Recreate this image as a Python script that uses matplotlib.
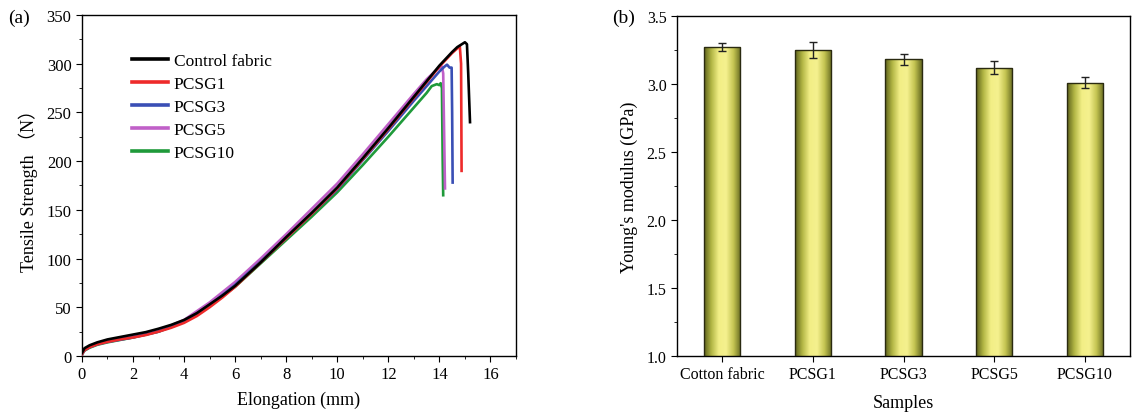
import numpy as np
import matplotlib
matplotlib.use("Agg")
import matplotlib.pyplot as plt
from matplotlib.ticker import MultipleLocator
from matplotlib.colors import LinearSegmentedColormap

plt.rcParams.update({"font.family": ["Liberation Serif", "Noto Sans CJK SC"],
                     "font.size": 11,
                     "axes.linewidth": 1.0,
                     "xtick.direction": "out", "ytick.direction": "out"})

# ── (a) tensile curves: elongation (mm) vs force (N) ──────────────────
ctrl_x = [0, 0.1, 0.3, 0.6, 1, 1.5, 2, 2.5, 3, 3.5, 4, 4.5, 5, 5.5, 6, 7, 8, 9, 10,
          11, 12, 13, 13.5, 14, 14.5, 14.7, 15.0, 15.08, 15.13, 15.2]
ctrl_y = [3, 8, 11, 14, 17, 19.5, 22, 24.5, 28, 32, 37, 44, 53, 62, 72, 96, 122, 147, 173,
          203, 234, 266, 282, 298, 312, 317, 322, 320, 290, 240]

g1_x = [0, 0.1, 0.3, 0.6, 1, 1.5, 2, 2.5, 3, 3.5, 4, 4.5, 5, 5.5, 6, 7, 8, 9, 10,
        11, 12, 13, 13.5, 14, 14.5, 14.8, 14.85, 14.87]
g1_y = [2, 6, 9, 12, 14.5, 17, 19, 21.5, 25, 29, 34, 41, 50, 60, 71, 96, 121, 146, 172,
        202, 233, 265, 281, 297, 311, 318, 300, 190]

g3_x = [0, 0.1, 0.3, 0.6, 1, 2, 3, 4, 5, 6, 7, 8, 9, 10, 11, 12, 13, 13.5, 14,
        14.2, 14.3, 14.4, 14.48, 14.5, 14.52]
g3_y = [2, 6, 9, 12, 14.5, 19, 25, 35, 52, 73, 97, 121, 146, 171, 201, 231, 262, 277, 292,
        297, 299, 296, 296, 250, 178]

g5_x = [0, 0.1, 0.3, 0.6, 1, 2, 3, 4, 5, 6, 7, 8, 9, 10, 11, 12, 13, 13.5, 13.9,
        14.1, 14.15, 14.22]
g5_y = [2, 6, 9.5, 12.5, 15, 20, 26, 37, 55, 76, 100, 125, 151, 177, 207, 238, 269, 284, 294,
        297, 290, 172]

g10_x = [0, 0.1, 0.3, 0.6, 1, 2, 3, 4, 5, 6, 7, 8, 9, 10, 11, 12, 13, 13.5, 13.7,
         13.9, 14.0, 14.05, 14.1, 14.13, 14.15]
g10_y = [1.5, 5.5, 8.5, 11.5, 14, 19, 25, 35, 52, 71, 95, 119, 143, 168, 196, 225, 255, 270, 277,
         279, 278, 280, 275, 200, 165]

curve_names  = ["Control fabric", "PCSG1", "PCSG3", "PCSG5", "PCSG10"]
curve_colors = ["black", "#ee2a2a", "#3a4fb5", "#c060c8", "#1f9a3a"]
curves = [(ctrl_x, ctrl_y), (g1_x, g1_y), (g3_x, g3_y), (g5_x, g5_y), (g10_x, g10_y)]

# ── (b) Young's modulus ───────────────────────────────────────────────
samples = ["Cotton fabric", "PCSG1", "PCSG3", "PCSG5", "PCSG10"]
modulus = [3.27, 3.25, 3.18, 3.12, 3.01]
mod_err = [0.03, 0.06, 0.04, 0.05, 0.04]

fig = plt.figure(figsize=(11.32, 4.14), dpi=100)
ax1 = fig.add_axes([0.0724, 0.1377, 0.3834, 0.8237])
ax2 = fig.add_axes([0.598, 0.1377, 0.4005, 0.8213])

zs = [6, 5, 4, 3, 2]
for (x, y), name, c, z in zip(curves, curve_names, curve_colors, zs):
    ax1.plot(x, y, color=c, lw=1.9, label=name, zorder=z)

ax1.set_xlim(0, 17)
ax1.set_ylim(0, 350)
ax1.xaxis.set_major_locator(MultipleLocator(2))
ax1.xaxis.set_minor_locator(MultipleLocator(1))
ax1.yaxis.set_major_locator(MultipleLocator(50))
ax1.yaxis.set_minor_locator(MultipleLocator(25))
ax1.tick_params(which="both", top=False, right=False, labelsize=12)
ax1.tick_params(which="major", length=4)
ax1.tick_params(which="minor", length=2.5)
ax1.set_xlabel("Elongation (mm)", fontsize=13, labelpad=6)
ax1.set_ylabel("Tensile Strength （N）", fontsize=13, labelpad=6)
leg = ax1.legend(loc="upper left", bbox_to_anchor=(0.115, 0.89), frameon=False,
                 fontsize=12.5, handlelength=2.1, labelspacing=0.4, handletextpad=0.3,
                 borderpad=0, borderaxespad=0)
for h in leg.get_lines():
    h.set_linewidth(2.6)

# bars with cylinder-like shading
shade = LinearSegmentedColormap.from_list(
    "shade", ["#5c601a", "#b2b645", "#f2ee86", "#f5f18e", "#c4c452", "#666a20"])
grad = np.linspace(0, 1, 256).reshape(1, -1)
ymin = 1.0
xpos = np.arange(len(samples))
bars = ax2.bar(xpos, modulus, width=0.4, facecolor="none",
               edgecolor="#2a2a10", linewidth=1.0, zorder=3)
for b in bars:
    x0, w, h = b.get_x(), b.get_width(), b.get_height()
    im = ax2.imshow(grad, extent=[x0, x0 + w, ymin, h], aspect="auto",
                    cmap=shade, zorder=2)
    im.set_clip_path(b)
ax2.errorbar(xpos, modulus, yerr=mod_err, fmt="none", ecolor="#222222",
             elinewidth=1.0, capsize=3, capthick=1.0, zorder=4)

ax2.set_xlim(-0.5, 4.5)
ax2.set_ylim(ymin, 3.5)
ax2.set_xticks(xpos)
ax2.set_xticklabels(samples)
ax2.yaxis.set_major_locator(MultipleLocator(0.5))
ax2.yaxis.set_minor_locator(MultipleLocator(0.25))
ax2.tick_params(which="both", top=False, right=False, labelsize=11.5)
ax2.tick_params(which="major", length=4)
ax2.tick_params(which="minor", length=2.5)
ax2.set_xlabel("Samples", fontsize=13, labelpad=8)
ax2.set_ylabel("Young's modulus (GPa)", fontsize=13, labelpad=6)

fig.text(0.007, 0.955, "(a)", fontsize=14, va="center")
fig.text(0.541, 0.955, "(b)", fontsize=14, va="center")

fig.savefig("out.png", dpi=100, facecolor="white")
